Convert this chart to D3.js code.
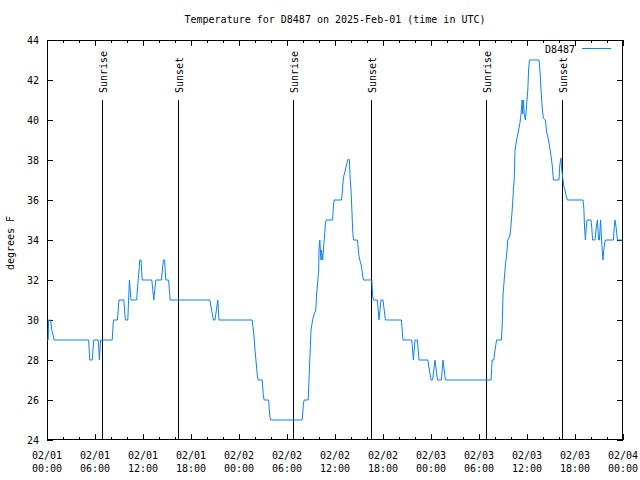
<!DOCTYPE html>
<html><head><meta charset="utf-8">
<script src="https://cdn.jsdelivr.net/npm/d3@7"></script>
<style>
body{margin:0;background:#fff;}
text{font-family:"DejaVu Sans Mono","Liberation Mono",monospace;font-size:10px;fill:#000;}
</style>
</head><body>
<svg id="c" width="640" height="480"></svg>
<script>
// ---- data ----
const titleText = "Temperature for D8487 on 2025-Feb-01 (time in UTC)";
const seriesName = "D8487";
const yLabel = "degrees F";
const startTime = "2025-02-01T00:00:00Z";
const endTime = "2025-02-04T00:00:00Z";
// hours after start
const hours = [0,0.15,0.2,0.45,0.6,0.9,5.2,5.35,5.65,5.85,6.4,6.55,6.7,8.15,8.3,8.8,9.0,9.6,9.8,10.1,10.3,10.5,11.2,11.6,11.75,11.9,13.1,13.35,13.6,14.3,14.55,14.7,14.85,15.2,15.4,
20.35,20.8,21.0,21.35,21.5,25.65,25.85,26.0,26.3,26.4,26.9,27.05,27.15,27.7,27.85,27.95,31.9,32.05,32.15,32.65,32.8,33.0,33.2,33.4,33.6,33.7,33.8,33.96,34.0,34.1,34.25,34.3,34.46,34.6,34.7,34.8,34.9,35.7,35.8,35.9,36.8,36.9,37.0,37.1,37.3,37.4,37.6,37.7,37.8,37.9,38.0,38.1,38.2,38.3,38.8,38.9,39.0,39.1,39.3,39.45,39.55,40.6,40.7,40.8,41.3,41.4,41.5,41.75,42.0,42.3,44.3,44.5,45.6,45.8,46.0,46.3,46.5,47.6,48.0,48.2,48.5,48.8,49.3,49.5,49.8,
55.5,55.65,55.85,56.0,56.2,56.8,56.9,57.0,57.2,57.3,57.45,57.55,57.6,57.85,57.95,58.05,58.15,58.2,58.3,58.4,58.5,58.7,58.85,59.1,59.25,59.4,59.45,59.55,59.65,59.8,60.0,60.1,60.2,60.3,61.5,61.65,61.75,61.9,62.05,62.3,62.45,62.7,62.85,63.0,63.15,63.3,64.0,64.1,64.25,64.35,64.5,64.6,64.75,64.9,65.05,67.0,67.1,67.2,67.3,67.4,67.5,68.0,68.1,68.2,68.5,68.65,68.8,68.95,69.05,69.2,69.3,69.4,69.5,69.6,69.7,69.8,70.8,70.9,71.0,71.15,71.3,72];
const temps = [29,29,30,30,29.5,29,29,28,28,29,29,28,29,29,30,30,31,31,30,30,32,31,31,33,33,32,32,31,32,32,33,33,32,32,31,
31,30,30,31,30,30,29.3,28.5,27.2,27,27,26.2,26,26,25.2,25,25,25.8,26,26,27.5,29.5,30,30.3,30.5,31.3,31.7,32.5,33.5,34,33,33.5,33,33.75,34.25,34.8,35,35,35.7,36,36,36.3,36.9,37.2,37.5,37.7,38,38.05,38,37,36.5,35.6,34.6,34,34,33.6,33.2,33,32.7,32.25,32,32,31.25,31,31,30.5,30,31,31,30,30,29,29,28,29,29,28,28,27,27,28,27,27,28,27,
27,28,28,28.5,29,29,29.75,31.25,32.25,32.75,33.25,33.75,34,34.2,34.5,35,35.5,35.8,36.5,37,38.5,39,39.3,39.8,40.3,41,40.3,41,40.3,40,41,41.5,42.5,43,43,42.3,41.5,40.6,40.1,40,39.4,39,38.6,38.2,37.75,37,37,37.75,38.1,37.5,37,36.7,36.5,36.2,36,36,35.6,34.6,34,34.6,35,35,34.6,34,34,34.6,35,34,34,35,34.2,33.5,33,33.5,33.8,34,34,34.6,35,34.6,34,34];
// sun events (hours after start)
const sunHours = [6.87,16.42,30.8,40.46,54.83,64.42];
const sunLabels = ["Sunrise","Sunset","Sunrise","Sunset","Sunrise","Sunset"];
const yTicks = [24,26,28,30,32,34,36,38,40,42,44];

// ---- chart ----
const W=640,H=480, L=47, R=623, T=40, B=440;
const svg = d3.select("#c");
const t0 = new Date(startTime), t1 = new Date(endTime);
const toDate = h => new Date(t0.getTime()+h*3600000);
const x = d3.scaleUtc().domain([t0,t1]).range([L,R]);
const y = d3.scaleLinear().domain([24,44]).range([B,T]);
const blue = "#0a84f5";

svg.append("text").attr("x",(L+R)/2).attr("y",23).attr("text-anchor","middle").text(titleText);

// frame
svg.append("rect").attr("x",L+0.5).attr("y",T+0.5).attr("width",R-L-1).attr("height",B-T-1)
  .attr("fill","none").attr("stroke","#000").attr("shape-rendering","crispEdges");

const g = svg.append("g").attr("shape-rendering","crispEdges");
const major = d3.utcHour.every(6).range(t0, new Date(t1.getTime()+1));
const minor = d3.utcHour.every(2).range(t0, new Date(t1.getTime()+1));
minor.forEach(d=>{
  const px = Math.round(x(d))+0.5;
  const isMaj = d.getUTCHours()%6===0;
  const len = isMaj?6:3;
  g.append("line").attr("x1",px).attr("x2",px).attr("y1",B).attr("y2",B-len).attr("stroke","#000");
  g.append("line").attr("x1",px).attr("x2",px).attr("y1",T).attr("y2",T+len).attr("stroke","#000");
});
const fmtD = d3.utcFormat("%m/%d"), fmtH = d3.utcFormat("%H:%M");
major.forEach(d=>{
  const px = x(d);
  svg.append("text").attr("x",px).attr("y",459).attr("text-anchor","middle").text(fmtD(d));
  svg.append("text").attr("x",px).attr("y",472).attr("text-anchor","middle").text(fmtH(d));
});
yTicks.forEach(v=>{
  const py = Math.round(y(v))+0.5;
  g.append("line").attr("x1",L).attr("x2",L+6).attr("y1",py).attr("y2",py).attr("stroke","#000");
  g.append("line").attr("x1",R-6).attr("x2",R).attr("y1",py).attr("y2",py).attr("stroke","#000");
  svg.append("text").attr("x",39).attr("y",y(v)).attr("dy","0.35em").attr("text-anchor","end").text(v);
});
svg.append("text").attr("transform","translate(14,243) rotate(-90)").attr("text-anchor","middle").text(yLabel);

// sun lines
sunHours.forEach((h,i)=>{
  const px = Math.round(x(toDate(h)))+0.5;
  g.append("line").attr("x1",px).attr("x2",px).attr("y1",100).attr("y2",B).attr("stroke","#000");
  svg.append("text").attr("transform",`translate(${px+4},93) rotate(-90)`).attr("text-anchor","start").text(sunLabels[i]);
});

// series
const pts = hours.map((h,i)=>[toDate(h),temps[i]]);
svg.append("path").datum(pts)
  .attr("d",d3.line().x(d=>x(d[0])).y(d=>y(d[1])))
  .attr("fill","none").attr("stroke",blue).attr("stroke-width",1);

// legend
svg.append("text").attr("x",575).attr("y",49).attr("dy","0.35em").attr("text-anchor","end").text(seriesName);
svg.append("line").attr("x1",582).attr("x2",611).attr("y1",48.5).attr("y2",48.5).attr("stroke",blue).attr("shape-rendering","crispEdges");
</script>
</body></html>
